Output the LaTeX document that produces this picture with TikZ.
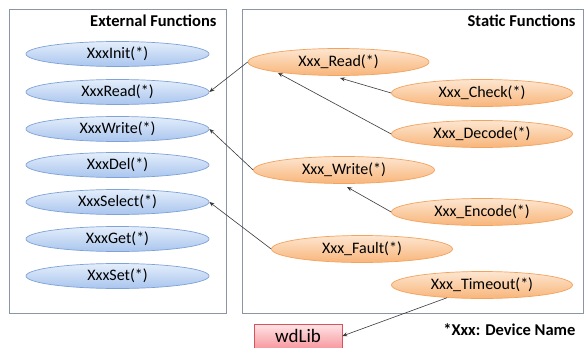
\documentclass[tikz,border=0pt]{standalone}
\usepackage{fontspec}
\setmainfont{Carlito}
\usetikzlibrary{arrows.meta,shapes.geometric}
\definecolor{frame}{HTML}{8A95A5}
\definecolor{blueTop}{HTML}{E4EEFB}
\definecolor{blueBot}{HTML}{A9C5EE}
\definecolor{blueLine}{HTML}{7FA3D8}
\definecolor{orTop}{HTML}{FDE6D0}
\definecolor{orBot}{HTML}{F8B57A}
\definecolor{orLine}{HTML}{F2A35E}
\definecolor{pkTop}{HTML}{FFE4E6}
\definecolor{pkBot}{HTML}{F79AA0}
\definecolor{pkLine}{HTML}{D9535C}
\definecolor{arr}{HTML}{3A3A3A}
\tikzset{
  panel/.style={draw=frame, line width=0.8pt, fill=white},
  extfn/.style={ellipse, draw=blueLine, line width=0.7pt, top color=blueTop, bottom color=blueBot,
     minimum width=183pt, minimum height=25pt, inner sep=0pt, font=\fontsize{16}{18}\selectfont},
  statfn/.style={ellipse, draw=orLine, line width=0.7pt, top color=orTop, bottom color=orBot,
     minimum width=181pt, minimum height=27pt, inner sep=0pt, font=\fontsize{16}{18}\selectfont},
  libbox/.style={rectangle, draw=pkLine, line width=0.7pt, top color=pkTop, bottom color=pkBot,
     minimum width=88pt, minimum height=24pt, inner sep=0pt, font=\fontsize{19}{21}\selectfont},
  title/.style={font=\bfseries\fontsize{16.5}{18}\selectfont, anchor=east},
  link/.style={draw=arr, line width=0.6pt, -{Stealth[length=5pt,width=4pt]}}
}
\begin{document}
\begin{tikzpicture}[x=1pt,y=-1pt]
\useasboundingbox (0,0) rectangle (584,348);
\draw[panel] (9,9) rectangle (226,313);
\draw[panel] (242,9) rectangle (583,313);
\node[title] (exttitle) at (220,21) {External Functions};
\node[title] (stattitle) at (579,21) {Static Functions};

\node[extfn] (init)   at (117.5,54)  {XxxInit(*)};
\node[extfn] (read)   at (117.5,92)  {XxxRead(*)};
\node[extfn] (write)  at (117.5,129) {XxxWrite(*)};
\node[extfn] (del)    at (117.5,165) {XxxDel(*)};
\node[extfn] (select) at (117.5,202) {XxxSelect(*)};
\node[extfn] (get)    at (117.5,239) {XxxGet(*)};
\node[extfn] (set)    at (117.5,276) {XxxSet(*)};

\node[statfn] (sread)    at (338.5,62)  {Xxx\_Read(*)};
\node[statfn] (scheck)   at (482,93)    {Xxx\_Check(*)};
\node[statfn] (sdecode)  at (482,134)   {Xxx\_Decode(*)};
\node[statfn] (swrite)   at (344,170)   {Xxx\_Write(*)};
\node[statfn] (sencode)  at (482,212)   {Xxx\_Encode(*)};
\node[statfn] (sfault)   at (362,249)   {Xxx\_Fault(*)};
\node[statfn] (stimeout) at (482,285)   {Xxx\_Timeout(*)};

\node[libbox] (wdlib) at (298,336) {wdLib};
\node[font=\bfseries\fontsize{16.5}{18}\selectfont, anchor=east] (note) at (579,330) {*Xxx: Device Name};

\coordinate (readhit) at (340,78);
\coordinate (decodehit) at (278,73);
\coordinate (writehit) at (347,187);

\draw[link] (sread.west) -- (read.east);
\draw[link] (scheck.west) -- (readhit);
\draw[link] (sdecode.west) -- (decodehit);
\draw[link] (swrite.west) -- (write.east);
\draw[link] (sencode.west) -- (writehit);
\draw[link] (sfault.west) -- (select.east);
\draw[link] (stimeout.200) -- (wdlib.east);
\end{tikzpicture}
\end{document}
